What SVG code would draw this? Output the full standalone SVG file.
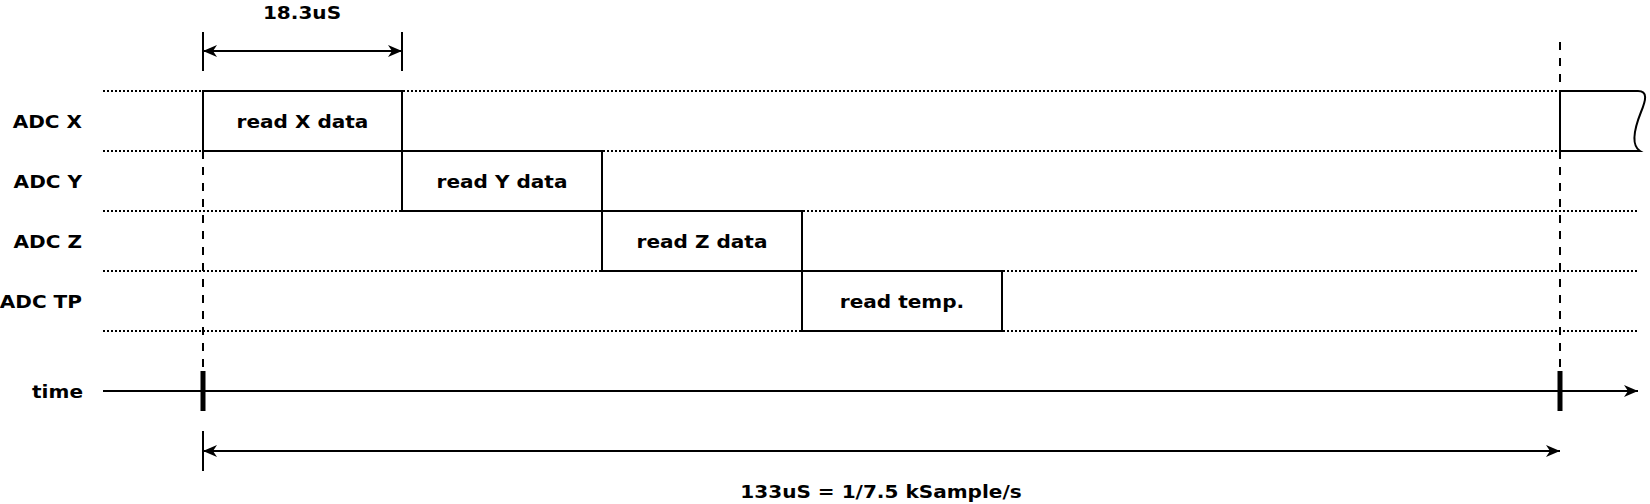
<svg xmlns="http://www.w3.org/2000/svg" width="1650" height="504" viewBox="0 0 1650 504">
<style>
text{font-family:"DejaVu Sans",sans-serif;font-weight:bold;font-size:18px;fill:#000}
.lbl{text-anchor:end}
.mid{text-anchor:middle}
.dot{stroke:#000;stroke-width:2;stroke-dasharray:2 2;fill:none}
.dash{stroke:#000;stroke-width:2;stroke-dasharray:8 8;fill:none}
.ln{stroke:#000;stroke-width:2;fill:none}
.box{stroke:#000;stroke-width:2;fill:#fff}
</style>
<defs>
<marker id="ah" viewBox="0 0 14 12" refX="14" refY="6" markerWidth="14" markerHeight="12" markerUnits="userSpaceOnUse" orient="auto-start-reverse">
<path d="M0,0 L14,6 L0,12 L4,6 Z" fill="#000"/>
</marker>
</defs>
<g id="grid">
<line class="dot" x1="103" y1="91" x2="1638" y2="91"/>
<line class="dot" x1="103" y1="151" x2="1638" y2="151"/>
<line class="dot" x1="103" y1="211" x2="1638" y2="211"/>
<line class="dot" x1="103" y1="271" x2="1638" y2="271"/>
<line class="dot" x1="103" y1="331" x2="1638" y2="331"/>
</g>
<g id="labels">
<text class="lbl" transform="translate(82,128) scale(1.115,1)">ADC X</text>
<text class="lbl" transform="translate(82,188) scale(1.115,1)">ADC Y</text>
<text class="lbl" transform="translate(82,248) scale(1.115,1)">ADC Z</text>
<text class="lbl" transform="translate(82,308) scale(1.115,1)">ADC TP</text>
<text class="lbl" transform="translate(83,398) scale(1.115,1)">time</text>
</g>
<g id="connectors">
<line class="dash" x1="203" y1="151" x2="203" y2="371"/>
<line class="dash" x1="1560" y1="42" x2="1560" y2="91"/>
<line class="dash" x1="1560" y1="151" x2="1560" y2="371"/>
<line class="ln" x1="103" y1="391" x2="1638" y2="391" marker-end="url(#ah)"/>
<line x1="203" y1="371" x2="203" y2="411" stroke="#000" stroke-width="5"/>
<line x1="1560" y1="371" x2="1560" y2="411" stroke="#000" stroke-width="5"/>
<line class="ln" x1="203" y1="32" x2="203" y2="71"/>
<line class="ln" x1="402" y1="32" x2="402" y2="71"/>
<line class="ln" x1="203" y1="51" x2="402" y2="51" marker-start="url(#ah)" marker-end="url(#ah)"/>
<line class="ln" x1="203" y1="431" x2="203" y2="471"/>
<line class="ln" x1="203" y1="451" x2="1560" y2="451" marker-start="url(#ah)" marker-end="url(#ah)"/>
</g>
<g id="dimtext">
<text class="mid" transform="translate(302,19) scale(1.115,1)">18.3uS</text>
<text class="mid" transform="translate(881,498) scale(1.115,1)">133uS = 1/7.5 kSample/s</text>
</g>
<g id="boxX"><rect class="box" x="203" y="91" width="199" height="60"/><text class="mid" transform="translate(302.5,128) scale(1.115,1)">read X data</text></g>
<g id="boxY"><rect class="box" x="402" y="151" width="200" height="60"/><text class="mid" transform="translate(502,188) scale(1.115,1)">read Y data</text></g>
<g id="boxZ"><rect class="box" x="602" y="211" width="200" height="60"/><text class="mid" transform="translate(702,248) scale(1.115,1)">read Z data</text></g>
<g id="boxTP"><rect class="box" x="802" y="271" width="200" height="60"/><text class="mid" transform="translate(902,308) scale(1.115,1)">read temp.</text></g>
<g id="boxNext"><path class="box" d="M1560,91 L1638,91 C1648,91 1646,100 1641,112 C1633,132 1632,146 1640,151 L1560,151 Z"/></g>
</svg>
